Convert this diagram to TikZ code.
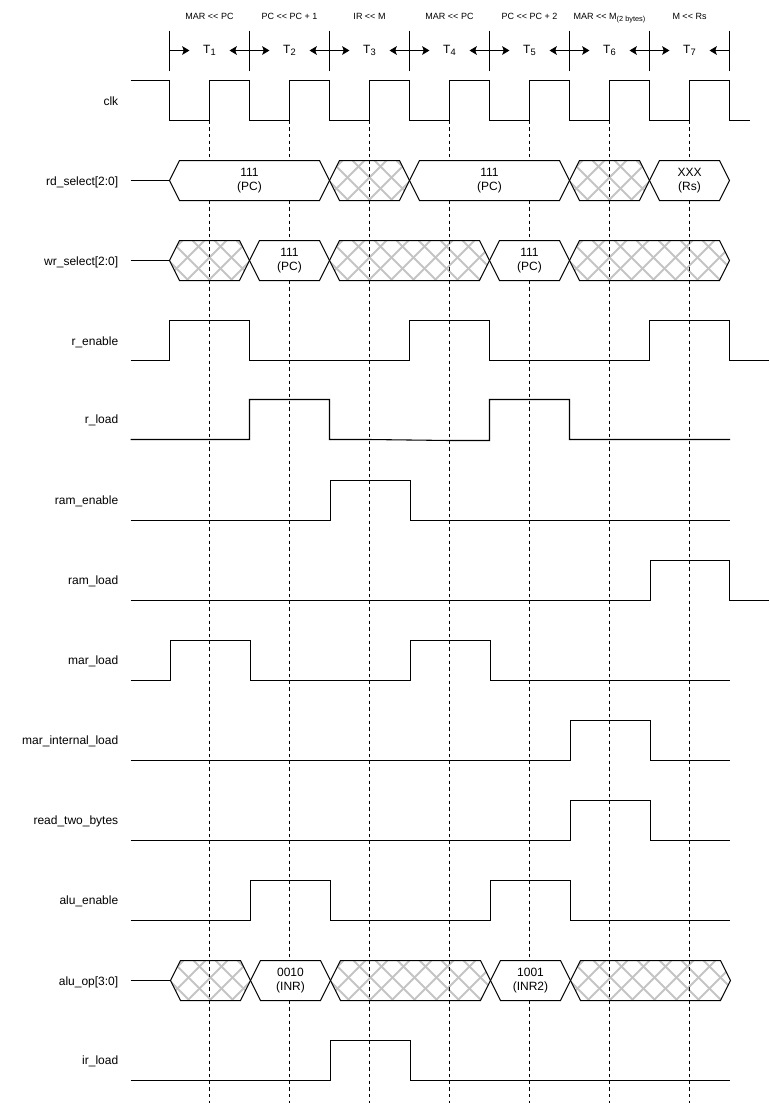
\documentclass[tikz,border=0pt]{standalone}
\usepackage{fontspec}
\setmainfont{Liberation Sans}
\usetikzlibrary{arrows.meta}
\definecolor{hatchgray}{HTML}{C4C4C4}

\tikzset{
    wave/.style={line width=0.8pt,line join=miter},
    busline/.style={line width=0.75pt,line join=miter},
    sampleline/.style={line width=0.75pt,dash pattern=on 2.6pt off 2.4pt},
    hatchline/.style={hatchgray,line width=1.5pt},
    timearrow/.style={line width=0.75pt,-{Stealth[length=5.5pt,width=6.5pt,inset=1.2pt]}},
    siglabel/.style={anchor=east,font=\fontsize{9pt}{11pt}\selectfont,text depth=0pt,inner sep=0pt},
    phaselabel/.style={anchor=base,font=\fontsize{6.75pt}{8pt}\selectfont,inner sep=0pt},
    buslabel/.style={align=center,font=\fontsize{9pt}{11pt}\selectfont,inner sep=0pt},
    tlabel/.style={font=\fontsize{9pt}{11pt}\selectfont,inner sep=0pt}
}
\newcommand{\shl}{<\kern0pt<}
\newcommand{\lowtext}[3]{\raisebox{#2}{\fontsize{#1}{#1}\selectfont #3}}
% hexagon of one bus segment: left, right, top
\newcommand{\buspath}[3]{(#1,#3+20) -- (#1+10,#3) -- (#2-10,#3) -- (#2,#3+20) -- (#2-10,#3+40) -- (#1+10,#3+40) -- cycle}
% hatched (don't care) bus segment
\newcommand{\hatchbus}[3]{
    \begin{scope}
    \clip \buspath{#1}{#2}{#3};
    \pgfmathsetmacro{\nlines}{int((#2-#1+60)/22)}
    \foreach \k in {-3,...,\nlines} {
        \pgfmathsetmacro{\xc}{#1+18+22*\k}
        \draw[hatchline] (\xc-17,#3) -- (\xc+23,#3+40);
        \draw[hatchline] (\xc+17,#3) -- (\xc-23,#3+40);
    }
    \end{scope}
    \draw[busline] \buspath{#1}{#2}{#3};
}

\begin{document}
\begin{tikzpicture}[x=0.75pt,y=-0.75pt]
\useasboundingbox (0,0) rectangle (770,1103);
\begin{scope}[shift={(0.5,0.5)}]

% Hatched bus segments
\foreach \xa/\xb/\ytop in {329/409/160,569/649/160,
    169/249/240,329/489/240,569/729/240,
    170/250/960,330/490/960,570/730/960} {
    \hatchbus{\xa}{\xb}{\ytop}
}

% Sampling lines at rising clock edges
\foreach \x in {209,289,369,449,529,609,689} {
    \draw[sampleline] (\x,120) -- (\x,1103);
}

% Bus segments with a value
\foreach \xa/\xb/\ytop/\val in {169/329/160/{111\\(PC)},409/569/160/{111\\(PC)},649/729/160/{XXX\\(Rs)},
    249/329/240/{111\\(PC)},489/569/240/{111\\(PC)},
    250/330/960/{0010\\(INR)},490/570/960/{1001\\(INR2)}} {
    \draw[busline,fill=white] \buspath{\xa}{\xb}{\ytop};
    \node[buslabel] (val\xa-\ytop) at ({(\xa+\xb)/2},\ytop+20) {\val};
}

% Phases
\foreach \i/\x/\txt in {1/169/{MAR \shl{} PC},2/249/{PC \shl{} PC + 1},3/329/{IR \shl{} M},4/409/{MAR \shl{} PC},
    5/489/{PC \shl{} PC + 2},6/569/{MAR \shl{} M\lowtext{5.5pt}{-1.5pt}{(2 bytes)}},7/649/{M \shl{} Rs}} {
    \node[tlabel] (T\i) at (\x+40,50) {T\lowtext{7pt}{-2pt}{\i}};
    \node[phaselabel] (phase\i) at (\x+40,19) {\txt};
    \coordinate (tick\i) at (\x,30);
    \draw[busline] (tick\i) -- ++(0,40);
    \draw[timearrow] (tick\i |- T\i) -- ++(20,0);
    \draw[timearrow] (\x+80,50) -- ++(-20,0);
}
\coordinate (tick8) at (729,30);
\draw[busline] (tick8) -- ++(0,40);

% Signal names
\foreach \nm/\y/\txt in {clk/101/clk,rdsel/181/rd\_select[2:0],wrsel/261/wr\_select[2:0],
    renable/341/r\_enable,rload/419/r\_load,ramenable/500/ram\_enable,ramload/580/ram\_load,
    marload/660/mar\_load,marint/740/mar\_internal\_load,readtwo/820/read\_two\_bytes,
    aluenable/900/alu\_enable,aluop/981/alu\_op[3:0],irload/1060/ir\_load} {
    \node[siglabel] (\nm) at (118,\y) {\txt};
}

% Waveforms
\draw[wave] (130,80) -- (169,80) |- (209,120) |- (249,80) |- (289,120) |- (329,80) |- (369,120) |- (409,80)
    |- (449,120) |- (489,80) |- (529,120) |- (569,80) |- (609,120) |- (649,80) |- (689,120) |- (729,80) |- (749,120);
\draw[wave] (130,180) -- (169,180);
\draw[wave] (130,260) -- (169,260);
\draw[wave] (130,360) -| (169,320) -| (249,360) -| (409,320) -| (489,360) -| (649,320) -| (729,360) -- (768.5,360);
\draw[wave] (130,439) -| (249,399) -| (329,439) -- (369,439) -- (449,440) -| (489,399) -| (569,439) -- (729.5,439);
\draw[wave] (130,520) -| (330,480) -| (410,520) -- (729.5,520);
\draw[wave] (130,600) -| (650,560) -| (729,600) -- (768.5,600);
\draw[wave] (130,680) -| (170,640) -| (250,680) -| (410,640) -| (490,680) -- (729.5,680);
\draw[wave] (130,760) -| (570,720) -| (650,760) -- (729.5,760);
\draw[wave] (130,840) -| (570,800) -| (650,840) -- (729.5,840);
\draw[wave] (130,920) -| (250,880) -| (330,920) -| (490,880) -| (570,920) -- (729.5,920);
\draw[wave] (130,980) -- (170,980);
\draw[wave] (130,1080) -| (330,1040) -| (410,1080) -- (729.5,1080);

\end{scope}
\end{tikzpicture}
\end{document}
